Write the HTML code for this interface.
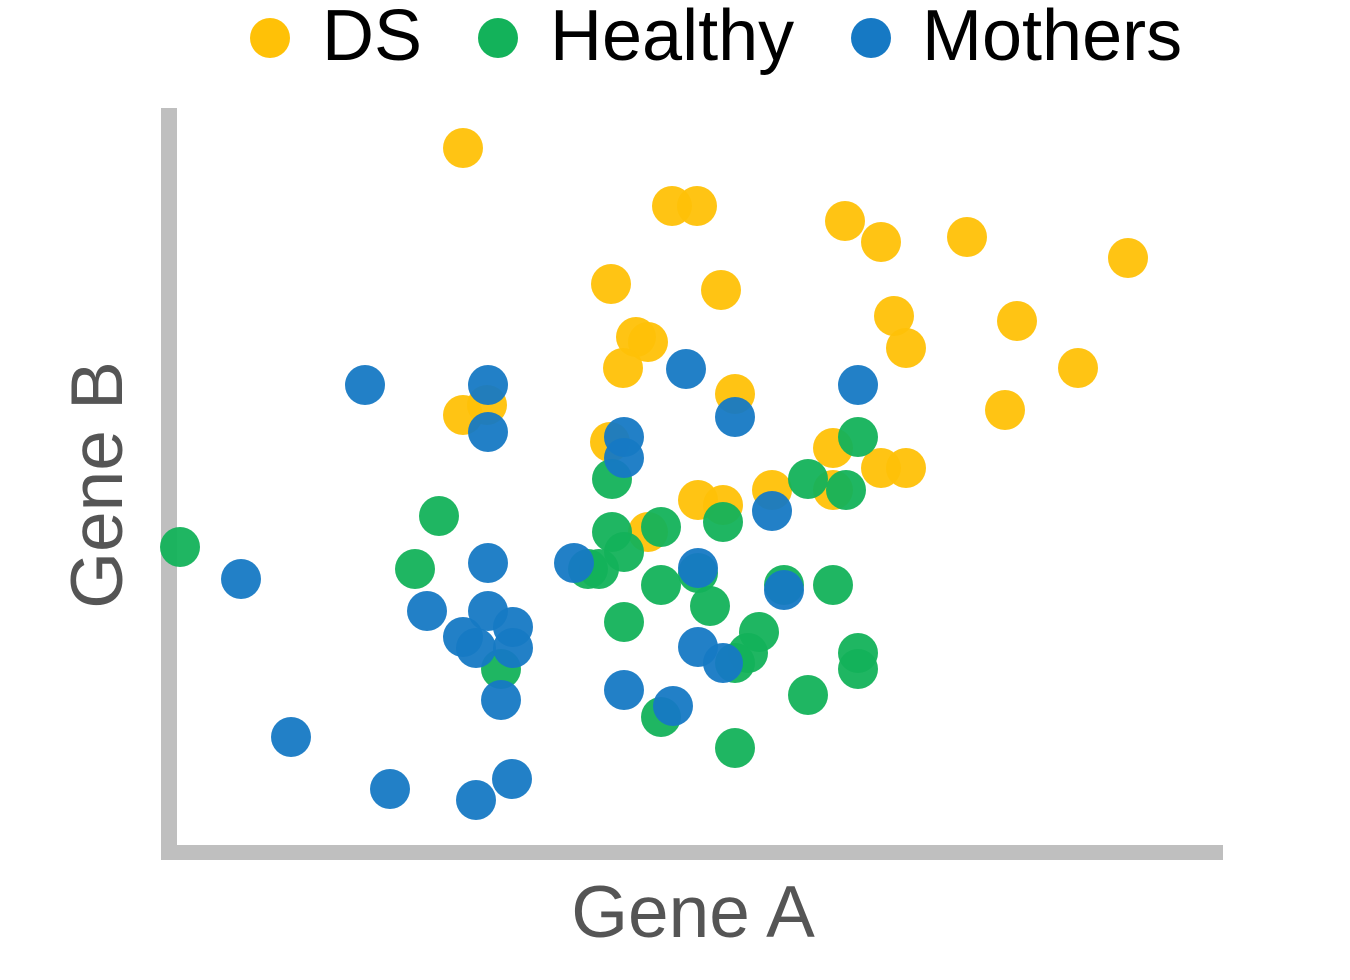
<!DOCTYPE html>
<html><head><meta charset="utf-8">
<style>
html,body{margin:0;padding:0;background:#fff;}
svg text{font-family:"Liberation Sans",Arial,sans-serif;}
</style></head>
<body>
<svg id="chart" width="1350" height="975" viewBox="0 0 1350 975" xmlns="http://www.w3.org/2000/svg">
  <g>
    <g>
      <circle cx="270" cy="38" r="20" fill="#FFC107"/>
      <text x="322" y="60" font-size="72" fill="#000">DS</text>
    </g>
    <g>
      <circle cx="498" cy="38" r="20" fill="#13B25A"/>
      <text x="550" y="60" font-size="72" fill="#000">Healthy</text>
    </g>
    <g>
      <circle cx="871" cy="38" r="20" fill="#1679C4"/>
      <text x="922" y="60" font-size="72" fill="#000">Mothers</text>
    </g>
  </g>
  <rect x="161" y="108" width="16" height="752" fill="#bfbfbf"/>
  <rect x="161" y="845" width="1062" height="15" fill="#bfbfbf"/>
  <text x="693" y="937" font-size="73" fill="#555" text-anchor="middle">Gene A</text>
  <text transform="translate(122,485) rotate(-90)" font-size="73" fill="#555" text-anchor="middle">Gene B</text>
  <g id="points"></g>
</svg>
<script>
const dsX=[29.4,50.3,52.8,67.6,71.2,79.8,95.9,44.2,55.2,72.5,84.8,46.7,47.9,73.7,45.4,90.9,56.6,83.6,29.4,31.8,44.1,66.4,71.2,73.7,52.9,55.4,60.3,66.4,47.9];
const dsY=[70.4,64.6,64.6,63.1,61.0,61.5,59.4,56.8,56.2,53.6,53.1,51.5,51.0,50.4,48.4,48.4,45.8,44.2,43.7,44.7,41.0,40.4,38.4,38.4,35.2,34.7,36.2,36.2,32.0];
const hX=[1.1,27.0,24.6,44.3,44.3,49.2,45.5,41.9,43.0,49.2,52.9,54.1,55.4,63.9,67.7,68.9,61.5,66.4,45.5,59.0,57.9,56.6,68.9,68.9,63.9,49.2,56.6,33.2];
const hY=[30.5,33.6,28.3,37.3,32.0,32.5,30.0,28.3,28.3,26.7,27.9,24.6,33.0,37.3,36.2,41.5,26.7,26.7,23.0,22.0,19.9,18.9,19.9,18.3,15.7,13.5,10.4,18.3];
const mX=[19.6,31.9,31.9,51.7,68.9,56.6,45.5,45.5,60.3,31.9,40.5,52.9,61.5,7.2,25.8,31.9,29.4,30.7,34.4,34.4,52.9,55.4,33.2,45.5,50.4,12.2,22.1,30.7,34.3];
const mY=[46.7,46.7,42.0,48.3,46.7,43.5,41.5,39.4,34.1,28.9,28.9,28.4,26.2,27.3,24.1,24.1,21.5,20.4,22.5,20.4,20.5,18.9,15.2,16.2,14.6,11.5,6.3,5.2,7.3];
const xScale=v=>169+v*10;
const yScale=v=>852-v*10;
const g=document.getElementById('points');
function drawSeries(xs,ys,color,name){
  for(let i=0;i<xs.length;i++){
    const c=document.createElementNS('http://www.w3.org/2000/svg','circle');
    c.setAttribute('cx',xScale(xs[i]));
    c.setAttribute('cy',yScale(ys[i]));
    c.setAttribute('r',20);
    c.setAttribute('fill',color);
    c.setAttribute('fill-opacity',0.95);
    
    
    g.appendChild(c);
  }
}
drawSeries(dsX,dsY,'#FFC107','ds');
drawSeries(hX,hY,'#13B25A','healthy');
drawSeries(mX,mY,'#1679C4','mothers');
</script>
</body></html>
